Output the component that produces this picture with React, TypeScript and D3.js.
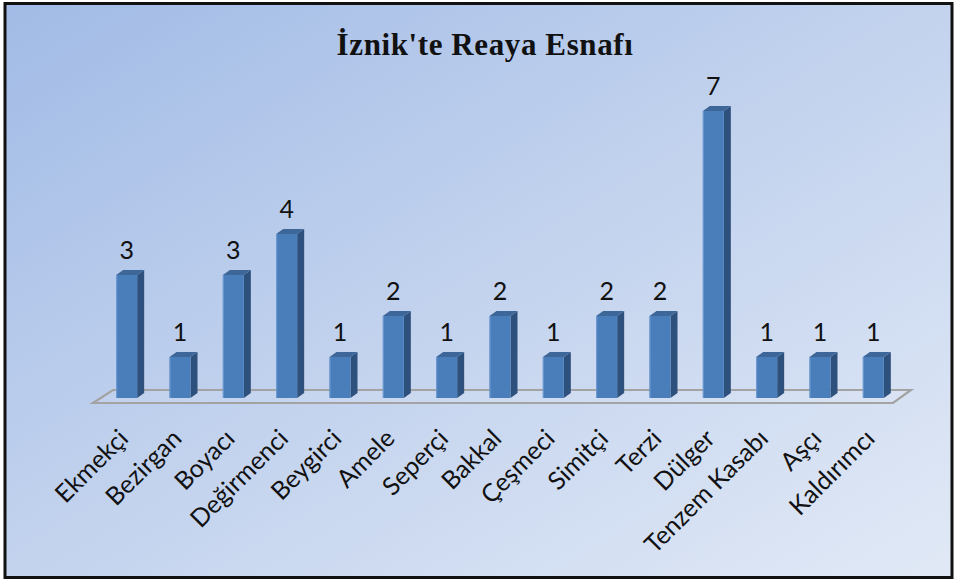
import React from "react";
import * as d3 from "d3";

const categories = ["Ekmekçi", "Bezirgan", "Boyacı", "Değirmenci", "Beygirci", "Amele", "Seperçi", "Bakkal", "Çeşmeci", "Simitçi", "Terzi", "Dülger", "Tenzem Kasabı", "Aşçı", "Kaldırımcı"];
const values = [3, 1, 3, 4, 1, 2, 1, 2, 1, 2, 2, 7, 1, 1, 1];
const title = "İznik'te Reaya Esnafı";

const W = 957, H = 581;

export default function App() {
  const x = d3.scaleBand<string>().domain(categories).range([100, 900]).padding(0);
  const y = d3.scaleLinear().domain([0, 7]).range([398, 111]);
  const bw = 21, dx = 7, dy = 5;
  const fdx = 18, fdy = 13;
  const fl = 93, fr = 893, fy = 403;
  const labelFont = "Lato, 'Open Sans', sans-serif";
  return (
    <svg width={W} height={H} style={{ position: "absolute", left: 0, top: 0 }}>
      <defs>
        <linearGradient id="bg" x1="0" y1="0" x2="1" y2="1">
          <stop offset="0" stopColor="#a1bbe6" />
          <stop offset="0.5" stopColor="#c3d3ee" />
          <stop offset="1" stopColor="#e1e9f6" />
        </linearGradient>
      </defs>
      <rect x={5} y={3.5} width={947} height={574} fill="url(#bg)" stroke="#111" strokeWidth={3} />
      <text x={485} y={55} textAnchor="middle" fontFamily="'Liberation Serif', 'Times New Roman', serif" fontWeight="bold" fontSize={31} letterSpacing={0.6} fill="#111">{title}</text>
      <path d={`M${fl},${fy} L${fr},${fy} L${fr + fdx},${fy - fdy} L${fl + fdx + 2},${fy - fdy} Z`} fill="rgba(255,255,255,0.08)" stroke="#a3a3a3" strokeWidth={2.2} />
      {categories.map((c, i) => {
        const cx = (x(c) as number) + x.bandwidth() / 2;
        const x0 = cx - bw / 2, x1 = cx + bw / 2;
        const yt = y(values[i]), yb = y(0);
        return (
          <g key={c}>
            <path d={`M${x1},${yt} L${x1 + dx},${yt - dy} L${x1 + dx},${yb - dy} L${x1},${yb} Z`} fill="#2e507c" />
            <path d={`M${x0},${yt} L${x0 + dx},${yt - dy} L${x1 + dx},${yt - dy} L${x1},${yt} Z`} fill="#3d6699" />
            <rect x={x0} y={yt} width={bw} height={yb - yt} fill="#4a7ebb" />
            <line x1={x0 + 0.5} x2={x0 + 0.5} y1={yt} y2={yb} stroke="#6e9bd2" strokeWidth={1} />
            <text x={cx} y={yt - dy - 11} textAnchor="middle" fontFamily={labelFont} fontSize={25} fill="#111">{values[i]}</text>
            <text transform={`translate(${cx + 3},${440}) rotate(-45)`} textAnchor="end" fontFamily={labelFont} fontSize={25} fill="#111">{c}</text>
          </g>
        );
      })}
    </svg>
  );
}
